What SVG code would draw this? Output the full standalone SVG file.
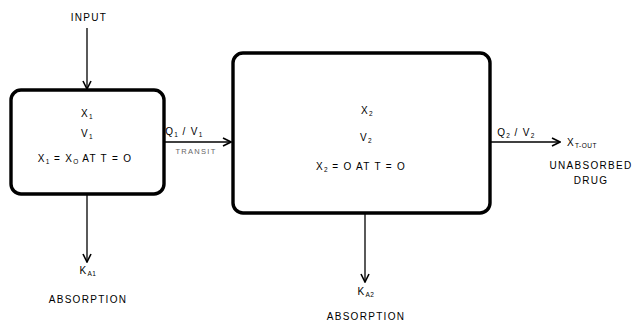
<svg xmlns="http://www.w3.org/2000/svg" width="633" height="326" viewBox="0 0 633 326">
<defs>
<marker id="v" viewBox="0 0 10 10" refX="9" refY="5" markerWidth="10" markerHeight="10" markerUnits="userSpaceOnUse" orient="auto">
<path d="M1,1 L9,5 L1,9" fill="none" stroke="#000" stroke-width="1.6"/>
</marker>
<style>
.box{fill:#fff;stroke:#000;stroke-width:3.4}
.ln{fill:none;stroke:#000;stroke-width:1.3;marker-end:url(#v)}
text{font-family:"Liberation Sans",Arial,sans-serif;font-size:10px;fill:#000;text-anchor:middle;letter-spacing:1.3px}
.sub{font-size:6.5px;letter-spacing:0.5px}
.faint{fill:#666;font-size:7.5px}
</style>
</defs>
<rect width="633" height="326" fill="#fff"/>
<g id="connectors">
<line class="ln" x1="87" y1="28" x2="87" y2="89"/>
<line class="ln" x1="164" y1="142" x2="231" y2="142"/>
<line class="ln" x1="491" y1="142" x2="560" y2="142"/>
<line class="ln" x1="87" y1="195" x2="87" y2="262"/>
<line class="ln" x1="365" y1="214" x2="365" y2="282"/>
</g>
<g id="input"><text x="89" y="21">INPUT</text></g>
<g id="compartment1">
<rect class="box" x="11" y="90" width="153" height="104" rx="10"/>
<text x="87" y="117">X<tspan class="sub" dy="2">1</tspan></text>
<text x="87" y="137">V<tspan class="sub" dy="2">1</tspan></text>
<text x="85" y="162">X<tspan class="sub" dy="2">1</tspan><tspan dy="-2"> = X</tspan><tspan class="sub" dy="2">O</tspan><tspan dy="-2"> AT  T = O</tspan></text>
</g>
<g id="transit">
<text x="184" y="135">Q<tspan class="sub" dy="2">1</tspan><tspan dy="-2"> / V</tspan><tspan class="sub" dy="2">1</tspan></text>
<text class="faint" x="196" y="154">TRANSIT</text>
</g>
<g id="compartment2">
<rect class="box" x="233" y="53" width="257" height="160" rx="10"/>
<text x="367" y="114">X<tspan class="sub" dy="2">2</tspan></text>
<text x="366" y="141">V<tspan class="sub" dy="2">2</tspan></text>
<text x="361" y="170">X<tspan class="sub" dy="2">2</tspan><tspan dy="-2"> = O  AT  T = O</tspan></text>
</g>
<g id="output">
<text x="516" y="136">Q<tspan class="sub" dy="2">2</tspan><tspan dy="-2"> / V</tspan><tspan class="sub" dy="2">2</tspan></text>
<text x="582" y="146">X<tspan class="sub" dy="2">T-OUT</tspan></text>
<text x="591" y="169">UNABSORBED</text>
<text x="591" y="184">DRUG</text>
</g>
<g id="absorption1">
<text x="88" y="274">K<tspan class="sub" dy="2">A1</tspan></text>
<text x="88" y="303">ABSORPTION</text>
</g>
<g id="absorption2">
<text x="366" y="295">K<tspan class="sub" dy="2">A2</tspan></text>
<text x="366" y="320">ABSORPTION</text>
</g>
</svg>
